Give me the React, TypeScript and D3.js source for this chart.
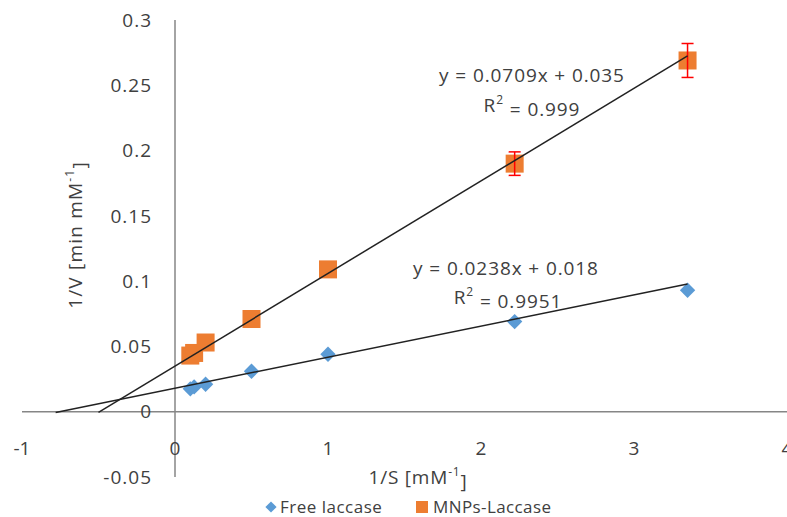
import React, { useEffect } from "react";
import * as d3 from "d3";

const W = 787;
const H = 517;

const xValues = [0.1, 0.125, 0.2, 0.5, 1.0, 2.22, 3.35];
const freeLaccase = [0.0175, 0.019, 0.021, 0.031, 0.044, 0.069, 0.093];
const mnpsLaccase = [0.043, 0.045, 0.053, 0.071, 0.109, 0.19, 0.269];
const mnpsError = [0, 0, 0, 0, 0, 0.009, 0.013];

const xTicks = [-1, 0, 1, 2, 3, 4];
const yTicks = [-0.05, 0, 0.05, 0.1, 0.15, 0.2, 0.25, 0.3];

const freeFit = { slope: 0.0238, intercept: 0.018, from: -0.78, to: 3.35 };
const mnpsFit = { slope: 0.0709, intercept: 0.035, from: -0.5, to: 3.35 };

const FONT = "'Open Sans', 'Liberation Sans', sans-serif";
const TEXT = "#404040";
const AXIS = "#868686";
const BLUE = "#5B9BD5";
const ORANGE = "#ED7D31";

export default function App() {
  useEffect(() => {
    document.body.style.margin = "0";
  }, []);

  const x = d3.scaleLinear().domain([-1, 4]).range([22, 787]);
  const y = d3.scaleLinear().domain([-0.05, 0.3]).range([477, 20]);

  const line = d3
    .line<[number, number]>()
    .x((d) => x(d[0]))
    .y((d) => y(d[1]));

  const fitPts = (f: typeof freeFit): [number, number][] => [
    [f.from, f.slope * f.from + f.intercept],
    [f.to, f.slope * f.to + f.intercept],
  ];

  const diamond = d3.symbol().type(d3.symbolDiamond2).size(150);
  const legendDiamond = d3.symbol().type(d3.symbolDiamond2).size(80);

  const fmtY = (v: number) => (v === 0 ? "0" : String(+v.toFixed(2)));

  return (
    <svg width={W} height={H} style={{ display: "block", background: "#fff" }} fontFamily={FONT}>
      {/* axes */}
      <line x1={x(0)} x2={x(0)} y1={y(0.3)} y2={y(-0.05)} stroke={AXIS} strokeWidth={1.5} />
      <line x1={x(-1)} x2={x(4)} y1={y(0)} y2={y(0)} stroke={AXIS} strokeWidth={1.5} />

      {yTicks.map((t) => (
        <text key={t} x={152} y={y(t)} dy="0.35em" textAnchor="end" fontSize={19} letterSpacing={1} fill={TEXT}>
          {fmtY(t)}
        </text>
      ))}
      {xTicks.map((t) => (
        <text key={t} x={x(t)} y={448} dy="0.35em" textAnchor="middle" fontSize={19} fill={TEXT}>
          {t}
        </text>
      ))}

      {/* axis titles */}
      <text x={418} y={477} dy="0.35em" textAnchor="middle" fontSize={19} letterSpacing={0.8} fill={TEXT}>
        1/S  [mM
        <tspan fontSize={12} dy="-0.6em">-1</tspan>
        <tspan dy="0.6em">]</tspan>
      </text>
      <text
        transform={`translate(75,235) rotate(-90)`}
        dy="0.35em"
        textAnchor="middle"
        fontSize={19}
        letterSpacing={1.2}
        fill={TEXT}
      >
        1/V  [min mM
        <tspan fontSize={12} dy="-0.6em">-1</tspan>
        <tspan dy="0.6em">]</tspan>
      </text>

      {/* markers: free laccase */}
      {xValues.map((v, i) => (
        <path key={"f" + i} d={diamond() || ""} transform={`translate(${x(v)},${y(freeLaccase[i])})`} fill={BLUE} />
      ))}

      {/* markers: MNPs */}
      {xValues.map((v, i) => (
        <rect
          key={"m" + i}
          x={x(v) - 9}
          y={y(mnpsLaccase[i]) - 9}
          width={18}
          height={18}
          fill={ORANGE}
        />
      ))}

      {/* error bars */}
      {xValues.map((v, i) =>
        mnpsError[i] > 0 ? (
          <g key={"e" + i} stroke="#FF0000" strokeWidth={1.5}>
            <line x1={x(v)} x2={x(v)} y1={y(mnpsLaccase[i] + mnpsError[i])} y2={y(mnpsLaccase[i] - mnpsError[i])} />
            <line x1={x(v) - 6} x2={x(v) + 6} y1={y(mnpsLaccase[i] + mnpsError[i])} y2={y(mnpsLaccase[i] + mnpsError[i])} />
            <line x1={x(v) - 6} x2={x(v) + 6} y1={y(mnpsLaccase[i] - mnpsError[i])} y2={y(mnpsLaccase[i] - mnpsError[i])} />
          </g>
        ) : null
      )}

      {/* trend lines */}
      <path d={line(fitPts(freeFit)) || ""} stroke="#222" strokeWidth={1.5} fill="none" />
      <path d={line(fitPts(mnpsFit)) || ""} stroke="#222" strokeWidth={1.5} fill="none" />

      {/* equations */}
      <text x={532} y={75} dy="0.35em" textAnchor="middle" fontSize={19} letterSpacing={0.9} fill={TEXT}>
        y = 0.0709x + 0.035
      </text>
      <text x={532} y={105} dy="0.35em" textAnchor="middle" fontSize={19} letterSpacing={0.9} fill={TEXT}>
        R<tspan fontSize={12} dy="-0.6em">2</tspan>
        <tspan dy="0.6em"> = 0.999</tspan>
      </text>
      <text x={506} y={268} dy="0.35em" textAnchor="middle" fontSize={19} letterSpacing={0.9} fill={TEXT}>
        y = 0.0238x + 0.018
      </text>
      <text x={508} y={297} dy="0.35em" textAnchor="middle" fontSize={19} letterSpacing={0.9} fill={TEXT}>
        R<tspan fontSize={12} dy="-0.6em">2</tspan>
        <tspan dy="0.6em"> = 0.9951</tspan>
      </text>

      {/* legend */}
      <path d={legendDiamond() || ""} transform="translate(271,507)" fill={BLUE} />
      <text x={280} y={507} dy="0.35em" fontSize={17} letterSpacing={0.5} fill={TEXT}>
        Free laccase
      </text>
      <rect x={416} y={501} width={12} height={12} fill={ORANGE} />
      <text x={433} y={507} dy="0.35em" fontSize={17} letterSpacing={0.4} fill={TEXT}>
        MNPs-Laccase
      </text>
    </svg>
  );
}
